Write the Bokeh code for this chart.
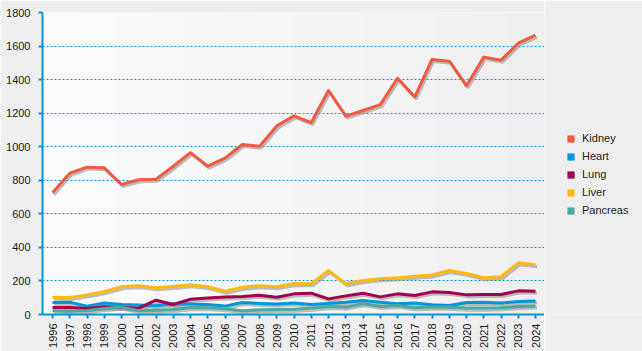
import numpy as np
from bokeh.plotting import figure
from bokeh.layouts import row
from bokeh.models import ColumnDataSource, Range1d, FixedTicker, Legend, LegendItem
from bokeh.transform import dodge
from bokeh.embed import file_html
from bokeh.resources import INLINE

years = list(range(1996, 2025))
kidney = [725, 842, 878, 874, 775, 803, 806, 884, 965, 884, 932, 1013, 1003, 1124, 1184, 1144,
          1335, 1182, 1216, 1251, 1408, 1297, 1520, 1510, 1363, 1534, 1516, 1617, 1665]
heart = [71, 73, 50, 69, 60, 56, 52, 64, 62, 60, 50, 71, 66, 62, 68, 60,
         66, 73, 83, 73, 64, 68, 58, 54, 71, 73, 69, 77, 81]
lung = [42, 42, 36, 46, 42, 38, 85, 60, 91, 99, 105, 108, 115, 103, 123, 127,
        93, 111, 127, 105, 123, 113, 135, 131, 117, 119, 119, 141, 139]
liver = [103, 101, 117, 137, 165, 171, 159, 167, 177, 165, 139, 163, 171, 165, 185, 183,
         262, 183, 203, 213, 219, 228, 236, 262, 244, 219, 225, 308, 296]
pancreas = [22, 20, 24, 36, 44, 22, 26, 30, 42, 40, 34, 22, 28, 30, 32, 38,
            48, 44, 64, 48, 54, 40, 44, 44, 38, 38, 40, 48, 50]

names = ["Kidney", "Heart", "Lung", "Liver", "Pancreas"]
series = [kidney, heart, lung, liver, pancreas]
colors = ["#f15a42", "#0096d9", "#a3004d", "#ffba12", "#4aaa9f"]
y_ticks = list(range(0, 1801, 200))

FONT = "Liberation Sans"
BLUE = "#0096d9"
BG = "#eeeeee"

x_start, x_end = years[0] - 0.58, years[-1] + 0.52
y_start, y_end = 0, 1800

p = figure(width=544, height=351, output_backend="svg", toolbar_location=None,
           x_range=Range1d(x_start, x_end), y_range=Range1d(y_start, y_end),
           min_border_left=42, min_border_right=0, min_border_top=12, min_border_bottom=37)
p.border_fill_color = BG
p.background_fill_color = "#f6f6f6"
p.outline_line_color = None

# background gradient
n = 256
t = np.linspace(0, 1, n)
c0, c1 = np.array([253, 253, 253]), np.array([239, 239, 239])
cols = (c0[None, :] * (1 - t[:, None]) + c1[None, :] * t[:, None]).astype(np.uint32)
img = np.zeros((1, n), dtype=np.uint32)
img[0, :] = (255 << 24) | (cols[:, 2] << 16) | (cols[:, 1] << 8) | cols[:, 0]
p.image_rgba(image=[img], x=x_start, y=y_start, dw=x_end - x_start, dh=y_end - y_start, level="image")

src = ColumnDataSource(dict(x=years, **{nm: s for nm, s in zip(names, series)}))

for nm in names:
    p.line(x=dodge("x", 0.09), y=dodge(nm, -12), source=src, line_color="#8a8a8a",
           line_alpha=0.55, line_width=3)
for nm, c in zip(names, colors):
    p.line(x="x", y=nm, source=src, line_color=c, line_width=3, line_join="round")

# axes
p.xaxis.ticker = FixedTicker(ticks=years)
p.yaxis.ticker = FixedTicker(ticks=y_ticks)
for ax in (p.xaxis[0], p.yaxis[0]):
    ax.axis_line_color = BLUE
    ax.axis_line_width = 2
    ax.major_tick_line_color = BLUE
    ax.major_tick_line_width = 2
    ax.major_tick_out = 4
    ax.major_tick_in = 0
    ax.minor_tick_line_color = None
    ax.major_label_text_font = FONT
    ax.major_label_text_font_size = "11px"
    ax.major_label_text_color = "#1a1a1a"
p.yaxis.major_label_standoff = 8
p.xaxis.major_label_standoff = 5
p.xaxis.major_label_orientation = np.pi / 2

p.xgrid.grid_line_color = None
p.ygrid.ticker = FixedTicker(ticks=y_ticks)
p.ygrid.grid_line_color = BLUE
p.ygrid.grid_line_dash = "2 2"
p.ygrid.grid_line_width = 1

# legend panel
lg = figure(width=98, height=351, output_backend="svg", toolbar_location=None,
            x_axis_type=None, y_axis_type=None, x_range=Range1d(0, 1), y_range=Range1d(0, 1),
            min_border_left=0, min_border_right=0, min_border_top=0, min_border_bottom=0)
lg.border_fill_color = BG
lg.background_fill_color = BG
lg.outline_line_color = None
lg.grid.visible = False

nan = float("nan")
items = []
for nm, c in zip(names, colors):
    q = lg.quad(left=[nan], right=[nan], top=[nan], bottom=[nan], fill_color=c, line_color=None)
    items.append(LegendItem(label=nm, renderers=[q]))

legend = Legend(items=items, location=(22, 97), padding=0, margin=0, spacing=4,
                glyph_width=9, glyph_height=9, label_height=14, label_standoff=7,
                label_text_font=FONT, label_text_font_size="11px", label_text_color="#1a1a1a",
                border_line_color=None, background_fill_alpha=0)
lg.add_layout(legend, "center")

layout = row(p, lg, spacing=0)
open("out.html", "w").write(file_html(layout, INLINE))
